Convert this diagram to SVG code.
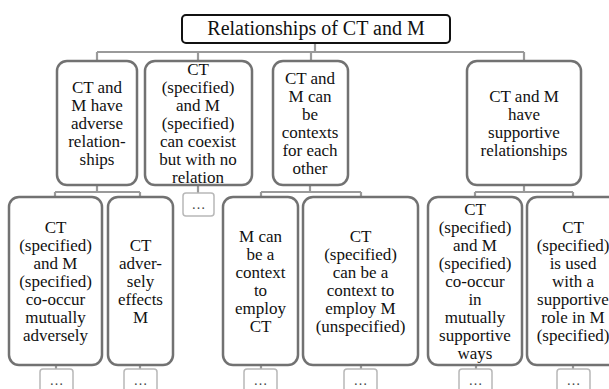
<svg xmlns="http://www.w3.org/2000/svg" width="609" height="389" viewBox="0 0 609 389">
<style>
.box{fill:#fff;stroke:#727272;stroke-width:2.5}
.root{fill:#fff;stroke:#111;stroke-width:2}
.more{fill:#fff;stroke:#b8b8b8;stroke-width:1.5}
.conn{fill:none;stroke:#9a9a9a;stroke-width:2.2}
text{font-family:'Liberation Serif','Times New Roman',serif;fill:#111;text-anchor:middle}
.t{font-size:17px}
.rt{font-size:20px}
.dots{font-size:14px;fill:#444}
</style>
<rect width="609" height="389" fill="#fff"/>
<g id="connectors" class="conn">
<path d="M315 43V52M97 52H524M97 52V61M198 52V61M311 52V61M524 52V61"/>
<path d="M97 185V192M55 192H140M55 192V197M140 192V197"/>
<path d="M198 185V193"/>
<path d="M310 185V192M261 192H361M261 192V197M361 192V197"/>
<path d="M524 185V192M475 192H573M475 192V197M573 192V197"/>
<path d="M56 365V369M140 365V369M261 365V369M361 365V369M476 365V369M573 365V369"/>
</g>
<g id="root">
<rect class="root" x="182" y="15" width="268" height="28" rx="4"/>
<text class="rt" x="316" y="35">Relationships of CT and M</text>
</g>
<g id="adverse">
<rect class="box" x="57" y="61" width="80" height="124" rx="10"/>
<text class="t" x="97" y="93"><tspan x="97">CT and</tspan><tspan x="97" dy="18">M have</tspan><tspan x="97" dy="18">adverse</tspan><tspan x="97" dy="18">relation-</tspan><tspan x="97" dy="18">ships</tspan></text>
</g>
<g id="coexist">
<rect class="box" x="145" y="61" width="107" height="124" rx="10"/>
<text class="t" x="198" y="75"><tspan x="198">CT</tspan><tspan x="198" dy="18">(specified)</tspan><tspan x="198" dy="18">and M</tspan><tspan x="198" dy="18">(specified)</tspan><tspan x="198" dy="18">can coexist</tspan><tspan x="198" dy="18">but with no</tspan><tspan x="198" dy="18">relation</tspan></text>
</g>
<g id="contexts">
<rect class="box" x="273" y="61" width="75" height="124" rx="10"/>
<text class="t" x="310" y="84"><tspan x="310">CT and</tspan><tspan x="310" dy="18">M can</tspan><tspan x="310" dy="18">be</tspan><tspan x="310" dy="18">contexts</tspan><tspan x="310" dy="18">for each</tspan><tspan x="310" dy="18">other</tspan></text>
</g>
<g id="supportive">
<rect class="box" x="467" y="61" width="114" height="124" rx="10"/>
<text class="t" x="524" y="102"><tspan x="524">CT and M</tspan><tspan x="524" dy="18">have</tspan><tspan x="524" dy="18">supportive</tspan><tspan x="524" dy="18">relationships</tspan></text>
</g>
<g id="more-coexist">
<rect class="more" x="183" y="193" width="31" height="23" rx="3"/>
<text class="dots" x="198.5" y="209">…</text>
</g>
<g id="mutually-adverse">
<rect class="box" x="9" y="197" width="93" height="168" rx="10"/>
<text class="t" x="55.5" y="233"><tspan x="55.5">CT</tspan><tspan x="55.5" dy="18">(specified)</tspan><tspan x="55.5" dy="18">and M</tspan><tspan x="55.5" dy="18">(specified)</tspan><tspan x="55.5" dy="18">co-occur</tspan><tspan x="55.5" dy="18">mutually</tspan><tspan x="55.5" dy="18">adversely</tspan></text>
</g>
<g id="adversely-effects">
<rect class="box" x="108" y="197" width="65" height="168" rx="10"/>
<text class="t" x="140.5" y="251"><tspan x="140.5">CT</tspan><tspan x="140.5" dy="18">adver-</tspan><tspan x="140.5" dy="18">sely</tspan><tspan x="140.5" dy="18">effects</tspan><tspan x="140.5" dy="18">M</tspan></text>
</g>
<g id="m-context">
<rect class="box" x="223" y="197" width="75" height="168" rx="10"/>
<text class="t" x="260.5" y="242"><tspan x="260.5">M can</tspan><tspan x="260.5" dy="18">be a</tspan><tspan x="260.5" dy="18">context</tspan><tspan x="260.5" dy="18">to</tspan><tspan x="260.5" dy="18">employ</tspan><tspan x="260.5" dy="18">CT</tspan></text>
</g>
<g id="ct-context">
<rect class="box" x="303" y="197" width="115" height="168" rx="10"/>
<text class="t" x="360.5" y="242"><tspan x="360.5">CT</tspan><tspan x="360.5" dy="18">(specified)</tspan><tspan x="360.5" dy="18">can be a</tspan><tspan x="360.5" dy="18">context to</tspan><tspan x="360.5" dy="18">employ M</tspan><tspan x="360.5" dy="18">(unspecified)</tspan></text>
</g>
<g id="mutually-supportive">
<rect class="box" x="428" y="197" width="94" height="168" rx="10"/>
<text class="t" x="475" y="215"><tspan x="475">CT</tspan><tspan x="475" dy="18">(specified)</tspan><tspan x="475" dy="18">and M</tspan><tspan x="475" dy="18">(specified)</tspan><tspan x="475" dy="18">co-occur</tspan><tspan x="475" dy="18">in</tspan><tspan x="475" dy="18">mutually</tspan><tspan x="475" dy="18">supportive</tspan><tspan x="475" dy="18">ways</tspan></text>
</g>
<g id="supportive-role">
<rect class="box" x="527" y="197" width="92" height="168" rx="10"/>
<text class="t" x="573" y="233"><tspan x="573">CT</tspan><tspan x="573" dy="18">(specified)</tspan><tspan x="573" dy="18">is used</tspan><tspan x="573" dy="18">with a</tspan><tspan x="573" dy="18">supportive</tspan><tspan x="573" dy="18">role in M</tspan><tspan x="573" dy="18">(specified)</tspan></text>
</g>
<g id="more-1"><rect class="more" x="40" y="369" width="33" height="30" rx="3"/><text class="dots" x="56.5" y="385">…</text></g>
<g id="more-2"><rect class="more" x="124" y="369" width="33" height="30" rx="3"/><text class="dots" x="140.5" y="385">…</text></g>
<g id="more-3"><rect class="more" x="244" y="369" width="33" height="30" rx="3"/><text class="dots" x="260.5" y="385">…</text></g>
<g id="more-4"><rect class="more" x="344" y="369" width="33" height="30" rx="3"/><text class="dots" x="360.5" y="385">…</text></g>
<g id="more-5"><rect class="more" x="459" y="369" width="33" height="30" rx="3"/><text class="dots" x="475.5" y="385">…</text></g>
<g id="more-6"><rect class="more" x="557" y="369" width="33" height="30" rx="3"/><text class="dots" x="573.5" y="385">…</text></g>
</svg>
